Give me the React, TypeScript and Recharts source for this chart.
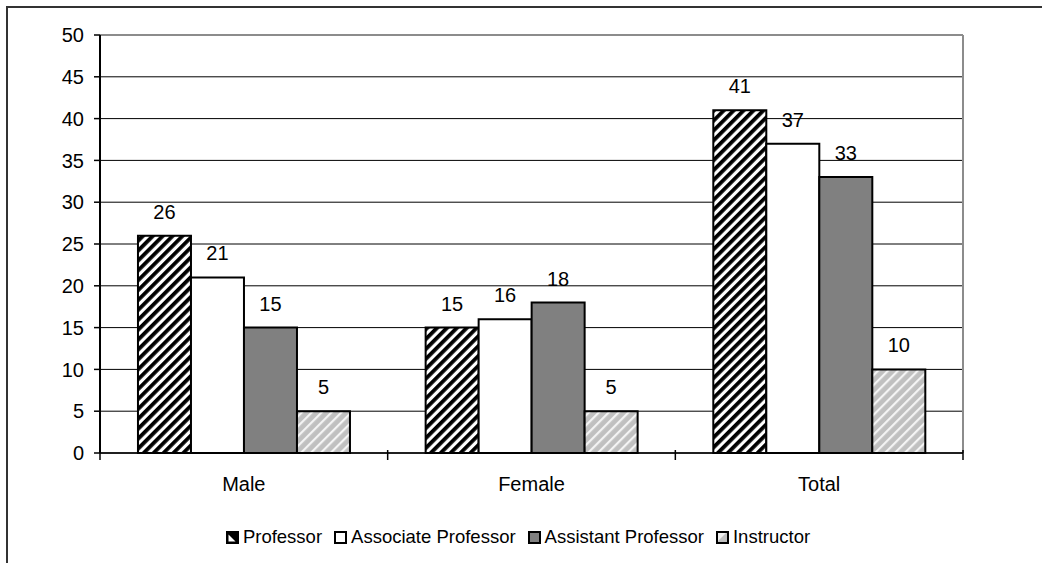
import React from "react";
import {
  BarChart,
  Bar,
  XAxis,
  YAxis,
  CartesianGrid,
  ReferenceLine,
  LabelList,
  Legend,
} from "recharts";

const categories = ["Male", "Female", "Total"];
const professor = [26, 15, 41];
const associateProfessor = [21, 16, 37];
const assistantProfessor = [15, 18, 33];
const instructor = [5, 5, 10];
const yTicks = [0, 5, 10, 15, 20, 25, 30, 35, 40, 45, 50];
const seriesNames = ["Professor", "Associate Professor", "Assistant Professor", "Instructor"];

const data = categories.map((category, i) => ({
  category,
  professor: professor[i],
  associateProfessor: associateProfessor[i],
  assistantProfessor: assistantProfessor[i],
  instructor: instructor[i],
}));

const FONT = "'Liberation Sans', Arial, sans-serif";

// x axis: label under each group, tick marks on the group boundaries (excel style)
function CategoryTick(props: any) {
  const { x, y, payload, index, visibleTicksCount } = props;
  const half = payload?.offset ?? 0;
  const isLast = index === visibleTicksCount - 1;
  return (
    <g>
      <line x1={x - half} x2={x - half} y1={y - 3} y2={y + 7} stroke="#000" strokeWidth={1.5} />
      {isLast && (
        <line x1={x + half} x2={x + half} y1={y - 3} y2={y + 7} stroke="#000" strokeWidth={1.5} />
      )}
      <text x={x} y={y + 38} textAnchor="middle" fontSize={20} fill="#000">
        {payload.value}
      </text>
    </g>
  );
}

function LegendIcon({ idx }: { idx: number }) {
  return (
    <svg width={13} height={13} style={{ display: "block" }}>
      {idx === 0 && (
        <>
          <rect x={1} y={1} width={11} height={11} fill="#000" stroke="#000" strokeWidth={2} />
          <polygon points="2.5,3.5 2.5,10.5 9.5,10.5" fill="#fff" />
        </>
      )}
      {idx === 1 && <rect x={1} y={1} width={11} height={11} fill="#fff" stroke="#000" strokeWidth={2} />}
      {idx === 2 && <rect x={1} y={1} width={11} height={11} fill="#808080" stroke="#000" strokeWidth={2} />}
      {idx === 3 && (
        <>
          <rect x={1} y={1} width={11} height={11} fill="#c0c0c0" stroke="#000" strokeWidth={2} />
          <polygon points="2,2 10,2 2,10" fill="#f0f0f0" />
        </>
      )}
    </svg>
  );
}

function ChartLegend() {
  return (
    <div style={{ display: "flex", justifyContent: "center", alignItems: "center", gap: 12 }}>
      {seriesNames.map((name, i) => (
        <div key={name} style={{ display: "flex", alignItems: "center", gap: 4 }}>
          <LegendIcon idx={i} />
          <span style={{ fontSize: 18.5, color: "#000", lineHeight: "20px" }}>{name}</span>
        </div>
      ))}
    </div>
  );
}

export default function App() {
  return (
    <div
      style={{
        position: "absolute",
        left: 0,
        top: 0,
        width: 1042,
        height: 563,
        background: "#fff",
        overflow: "hidden",
        fontFamily: FONT,
      }}
    >
      <div
        style={{
          position: "absolute",
          left: 6,
          top: 6,
          width: 1100,
          height: 600,
          borderLeft: "2px solid #333",
          borderTop: "2px solid #333",
        }}
      />
      <BarChart
        width={1042}
        height={563}
        data={data}
        margin={{ top: 35, right: 79, left: 0, bottom: 0 }}
        barCategoryGap="13.2%"
        barGap={0}
      >
        <defs>
          <pattern id="hatchBlack" patternUnits="userSpaceOnUse" width="7" height="7" patternTransform="rotate(45)">
            <rect width="7" height="7" fill="#fff" />
            <rect width="3.8" height="7" fill="#000" />
          </pattern>
          <pattern id="hatchGrey" patternUnits="userSpaceOnUse" width="7" height="7" patternTransform="rotate(45)">
            <rect width="7" height="7" fill="#c0c0c0" />
            <rect width="2.2" height="7" fill="#f4f4f4" />
          </pattern>
        </defs>

        <CartesianGrid vertical={false} stroke="#000" strokeWidth={1} />
        <CartesianGrid
          horizontal={false}
          stroke="#8c8c8c"
          strokeWidth={2}
          verticalCoordinatesGenerator={({ offset }: any) => [offset.left + offset.width]}
        />
        <ReferenceLine y={50} stroke="#8c8c8c" strokeWidth={2} />

        <XAxis
          dataKey="category"
          height={110}
          axisLine={{ stroke: "#000", strokeWidth: 1.5 }}
          tickLine={false}
          tickSize={0}
          tickMargin={0}
          tick={<CategoryTick />}
          interval={0}
        />
        <YAxis
          width={100}
          domain={[0, 50]}
          ticks={yTicks}
          interval={0}
          axisLine={{ stroke: "#000", strokeWidth: 2 }}
          tickLine={{ stroke: "#000", strokeWidth: 1.5 }}
          tickSize={6}
          tickMargin={10}
          tick={{ fontSize: 20, fill: "#000" }}
        />

        <Legend
          layout="horizontal"
          verticalAlign="middle"
          align="center"
          content={() => <ChartLegend />}
          wrapperStyle={{ top: 527, left: 0, width: 1036 }}
        />

        <Bar dataKey="professor" name={seriesNames[0]} fill="url(#hatchBlack)" stroke="#000" strokeWidth={2} isAnimationActive={false}>
          <LabelList dataKey="professor" position="top" offset={17} fontSize={20} fill="#000" />
        </Bar>
        <Bar dataKey="associateProfessor" name={seriesNames[1]} fill="#fff" stroke="#000" strokeWidth={2} isAnimationActive={false}>
          <LabelList dataKey="associateProfessor" position="top" offset={17} fontSize={20} fill="#000" />
        </Bar>
        <Bar dataKey="assistantProfessor" name={seriesNames[2]} fill="#808080" stroke="#000" strokeWidth={2} isAnimationActive={false}>
          <LabelList dataKey="assistantProfessor" position="top" offset={17} fontSize={20} fill="#000" />
        </Bar>
        <Bar dataKey="instructor" name={seriesNames[3]} fill="url(#hatchGrey)" stroke="#000" strokeWidth={2} isAnimationActive={false}>
          <LabelList dataKey="instructor" position="top" offset={17} fontSize={20} fill="#000" />
        </Bar>
      </BarChart>
    </div>
  );
}
